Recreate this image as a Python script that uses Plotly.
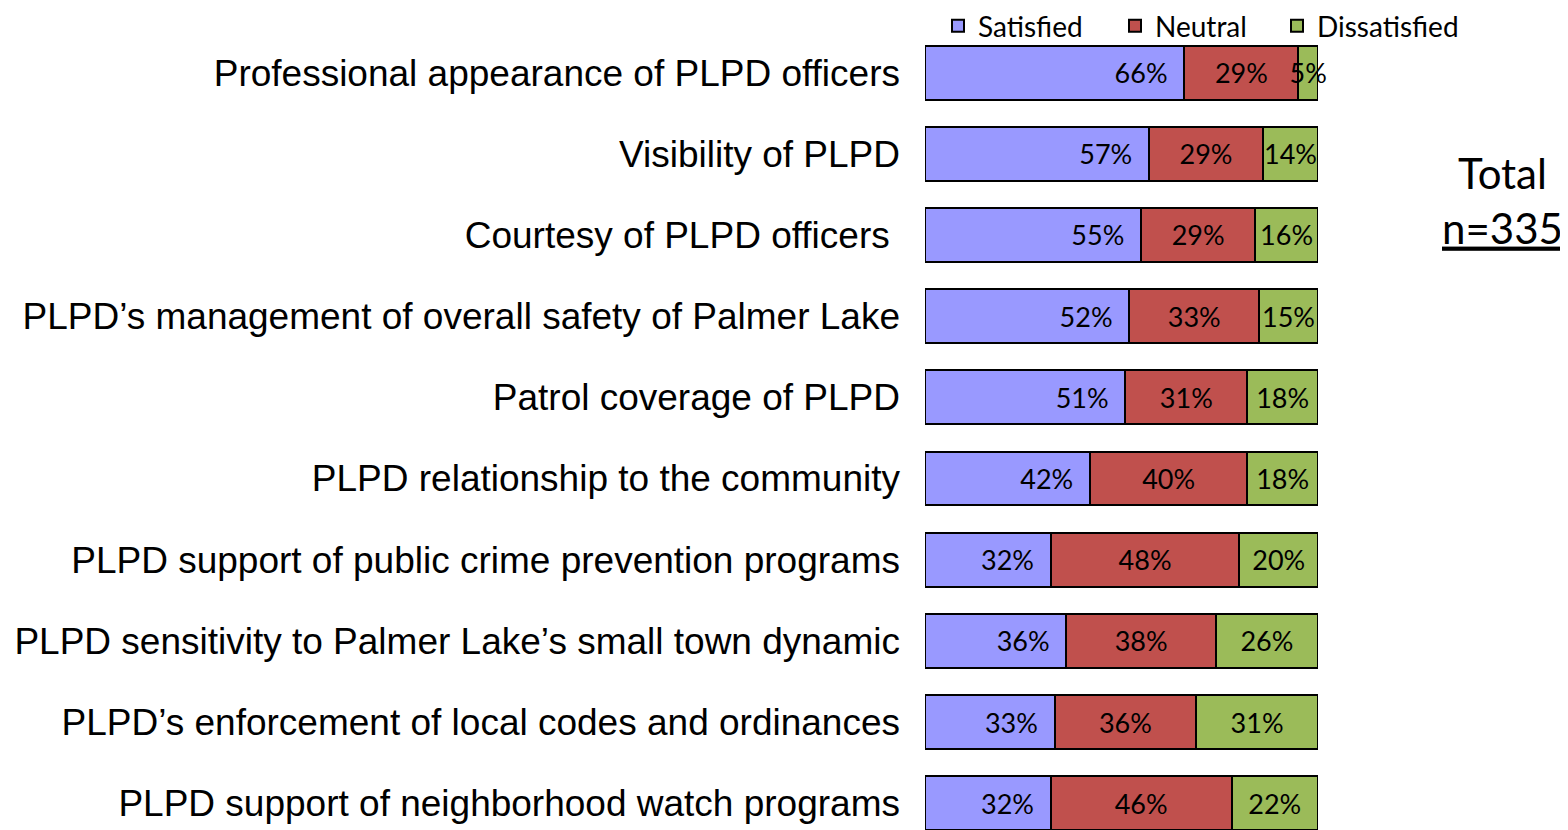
import plotly.graph_objects as go

categories = [
    "Professional appearance of PLPD officers",
    "Visibility of PLPD",
    "Courtesy of PLPD officers\u00a0",
    "PLPD\u2019s management of overall safety of Palmer Lake",
    "Patrol coverage of PLPD",
    "PLPD relationship to the community",
    "PLPD support of public crime prevention programs",
    "PLPD sensitivity to Palmer Lake\u2019s small town dynamic",
    "PLPD\u2019s enforcement of local codes and ordinances",
    "PLPD support of neighborhood watch programs",
]
satisfied = [66, 57, 55, 52, 51, 42, 32, 36, 33, 32]
neutral = [29, 29, 29, 33, 31, 40, 48, 38, 36, 46]
dissatisfied = [5, 14, 16, 15, 18, 18, 20, 26, 31, 22]

series = [
    ("Satisfied", satisfied, "#9999FF", "end", "%{x}%\u00a0\u00a0", 132),
    ("Neutral", neutral, "#C0504D", "middle", "%{x}%", 117),
    ("Dissatisfied", dissatisfied, "#9BBB59", "middle", "%{x}%", 160),
]

val_font = dict(family="Lato, Open Sans, sans-serif", size=27, color="black")

fig = go.Figure()
for name, vals, color, anchor, tmpl, lw in series:
    fig.add_trace(go.Bar(
        y=categories, x=vals, name=name, orientation="h",
        marker=dict(color=color, line=dict(color="black", width=2)),
        width=0.665,
        texttemplate=tmpl,
        textposition="inside",
        insidetextanchor=anchor,
        textangle=0,
        constraintext="none",
        cliponaxis=False,
        textfont=val_font,
        insidetextfont=val_font,
        hoverinfo="skip",
        legendwidth=lw,
    ))

# page body has an 8px margin; figure is 1560x822 so it fills the 1568x830 window
# plot area (figure px): x 917..1310, y 24..822
PL, PW, PT, PH = 917, 393, 24, 798

fig.add_annotation(
    x=(1494 - PL) / PW, xref="paper", xanchor="center",
    y=1 - (192 - PT) / PH, yref="paper", yanchor="middle",
    text="Total<br><u>n=335</u>", showarrow=False,
    font=dict(family="Lato, Open Sans, sans-serif", size=42, color="black"),
)

fig.update_layout(
    width=1560, height=822,
    barmode="stack",
    plot_bgcolor="white", paper_bgcolor="white",
    margin=dict(l=PL, r=1560 - PL - PW, t=PT, b=0, autoexpand=False),
    showlegend=True,
    legend=dict(
        orientation="h", x=(1474 - PL) / PW, xref="paper", xanchor="right",
        y=1 + (PT + 7) / PH, yref="paper", yanchor="top",
        font=dict(family="Lato, Open Sans, sans-serif", size=28, color="black"),
        traceorder="normal",
        bgcolor="rgba(0,0,0,0)",
        borderwidth=0,
    ),
    xaxis=dict(range=[0, 100], visible=False),
    yaxis=dict(
        categoryorder="array", categoryarray=categories,
        range=[9.33, -0.5], showgrid=False, zeroline=False, showline=False,
        ticks="", ticklabelstandoff=24,
        tickfont=dict(family="Arial, Liberation Sans, sans-serif", size=37, color="black"),
    ),
)

fig.write_html("out.html")
